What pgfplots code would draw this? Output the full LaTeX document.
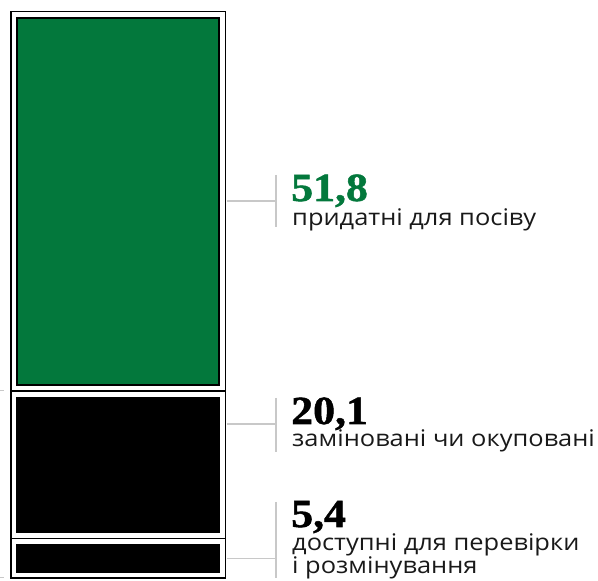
\documentclass[border=0pt]{standalone}
\usepackage{fontspec}
\setmainfont{Open Sans}[FakeStretch=1.11]
\newfontfamily\numfont[FakeStretch=1.1, FakeBold=1.3]{Liberation Serif}
\usepackage{pgfplots}
\pgfplotsset{compat=1.18}
\definecolor{seedgreen}{RGB}{3,120,60}
\definecolor{conn}{RGB}{200,200,200}
\definecolor{txt}{RGB}{25,25,25}
\pgfplotsset{stackbox/.style={at={(11bp,3bp)}, anchor=south west, scale only axis,
  width=214.5bp, height=566.5bp,
  xmin=0, xmax=1, ymin=0, ymax=77.3,
  xtick=\empty, ytick=\empty, clip=true,
  ybar stacked, bar width=1}}
\begin{document}
\begin{tikzpicture}[x=1bp,y=1bp]
\useasboundingbox (0,0) rectangle (598,581);
% pass A: fills with thick black border
\begin{axis}[stackbox, axis line style={draw=none}]
\addplot[fill=black, draw=black, line width=15pt] coordinates {(0.5,5.4)};
\addplot[fill=black, draw=black, line width=15pt] coordinates {(0.5,20.1)};
\addplot[fill=seedgreen, draw=black, line width=15pt] coordinates {(0.5,51.8)};
\end{axis}
% pass B: white gaps
\begin{axis}[stackbox, axis line style={draw=none}]
\addplot[fill=none, draw=white, line width=11pt] coordinates {(0.5,5.4)};
\addplot[fill=none, draw=white, line width=11pt] coordinates {(0.5,20.1)};
\addplot[fill=none, draw=white, line width=11pt] coordinates {(0.5,51.8)};
\end{axis}
% pass C: frame lines
\begin{axis}[stackbox, axis line style={black, line width=1.7pt}, axis on top]
\addplot[fill=none, draw=black, line width=1.7pt] coordinates {(0.5,5.4)};
\addplot[fill=none, draw=black, line width=1.7pt] coordinates {(0.5,20.1)};
\addplot[fill=none, draw=black, line width=1.7pt] coordinates {(0.5,51.8)};
\end{axis}
% small marks at left
\draw[conn, line width=1bp] (0,190) -- (4,190);
\draw[conn, line width=1bp] (0,3) -- (4,3);
% connectors
\draw[conn, line width=1.3bp] (226.5,380) -- (276,380);
\draw[conn, line width=1.3bp] (276,406) -- (276,354);
\draw[conn, line width=1.3bp] (226.5,157) -- (276,157);
\draw[conn, line width=1.3bp] (276,183) -- (276,129);
\draw[conn, line width=1.3bp] (226.5,22.5) -- (276,22.5);
\draw[conn, line width=1.3bp] (276,79) -- (276,3);
% labels
\tikzset{lbl/.style={anchor=base west, inner sep=0pt, text=txt, font=\fontsize{23}{20.5}\selectfont},
  num/.style={anchor=base west, inner sep=0pt, font=\numfont\bfseries\fontsize{40}{40}\selectfont}}
\node[num, text=seedgreen] at (291,380) {51,8};
\node[lbl] at (292,355) {придатні для посіву};
\node[num, text=black] at (291,157) {20,1};
\node[lbl] at (292,134) {заміновані чи окуповані};
\node[num, text=black] at (291,54) {5,4};
\node[lbl, align=left, anchor=south west] at (292,1.5) {доступні для перевірки\\і розмінування};
\end{tikzpicture}
\end{document}
